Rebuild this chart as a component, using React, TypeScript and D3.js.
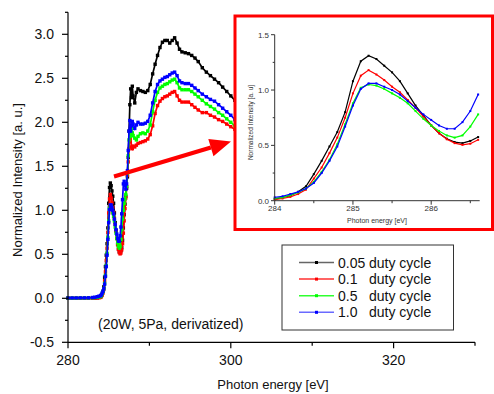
import React from "react";
import * as d3 from "d3";

// ---------- DATA ----------
const seriesNames = ["0.05", "0.1", "0.5", "1.0"];
const seriesColors = ["#000000", "#ff0000", "#00ff00", "#0000ff"];
const legendLineColors = ["#666666", "#ff3030", "#30ff30", "#6a6aff"];

// pre-edge energies (eV)
const ePre = [280, 280.5, 281, 281.5, 282, 282.5, 283, 283.3, 283.6, 283.8];
const blackPre = [0, 0, 0, 0, 0, 0, 0.002, 0.004, 0.007, 0.01];
const redPre = [0, 0, 0, 0, 0, 0, 0.001, 0.003, 0.005, 0.007];
const greenPre = [0.002, 0.002, 0.002, 0.003, 0.003, 0.004, 0.006, 0.008, 0.012, 0.016];
const bluePre = [0.004, 0.004, 0.004, 0.005, 0.005, 0.006, 0.009, 0.012, 0.018, 0.024];

// edge region (also shown in inset)
const eIn = [284.0, 284.1, 284.2, 284.3, 284.4, 284.5, 284.6, 284.7, 284.8, 284.9,
  285.0, 285.1, 285.2, 285.3, 285.4, 285.5, 285.6, 285.7, 285.8, 285.9,
  286.0, 286.1, 286.2, 286.3, 286.4, 286.5, 286.6];
const blackIn = [0.015, 0.03, 0.045, 0.08, 0.13, 0.24, 0.36, 0.49, 0.62, 0.8,
  1.08, 1.26, 1.31, 1.28, 1.22, 1.16, 1.08, 0.97, 0.86, 0.77,
  0.68, 0.61, 0.56, 0.53, 0.52, 0.54, 0.575];
const redIn = [0.01, 0.02, 0.035, 0.06, 0.1, 0.2, 0.3, 0.43, 0.57, 0.75,
  0.97, 1.13, 1.18, 1.14, 1.09, 1.03, 0.98, 0.91, 0.84, 0.76,
  0.68, 0.61, 0.555, 0.52, 0.505, 0.515, 0.55];
const greenIn = [0.02, 0.03, 0.05, 0.075, 0.11, 0.17, 0.26, 0.37, 0.51, 0.69,
  0.88, 1.02, 1.05, 1.04, 1.01, 0.97, 0.93, 0.88, 0.81, 0.74,
  0.68, 0.63, 0.59, 0.57, 0.59, 0.67, 0.78];
const blueIn = [0.03, 0.04, 0.06, 0.08, 0.11, 0.16, 0.25, 0.36, 0.49, 0.67,
  0.86, 1.01, 1.06, 1.06, 1.03, 1.0, 0.96, 0.9, 0.84, 0.78,
  0.73, 0.68, 0.65, 0.65, 0.71, 0.81, 0.96];

// post-edge energies (eV)
const ePost = [286.7, 286.8, 286.9, 287.0, 287.1, 287.2, 287.3, 287.4, 287.5, 287.6,
  287.7, 287.8, 287.9, 288.0, 288.2, 288.4, 288.6, 288.9, 289.2, 289.5,
  289.8, 290.1, 290.4, 290.7, 291.0, 291.3, 291.6, 291.9, 292.2, 292.5,
  292.8, 293.1, 293.4, 293.7, 294.0, 294.4, 294.8, 295.2, 295.6, 296.0,
  296.5, 297.0, 297.5, 298.0, 298.5, 299.0, 299.5, 300.0, 300.5, 301.0, 302.0];
const blackPost = [0.66, 0.8, 0.95, 1.07, 1.16, 1.25, 1.38, 1.6, 1.9, 2.2,
  2.38, 2.28, 2.41, 2.3, 2.22, 2.34, 2.38, 2.36, 2.35, 2.34,
  2.36, 2.43, 2.55, 2.66, 2.76, 2.85, 2.91, 2.93, 2.93, 2.9,
  2.93, 2.96, 2.9, 2.83, 2.8, 2.79, 2.78, 2.76, 2.73, 2.69,
  2.62, 2.57, 2.53, 2.49, 2.45, 2.4, 2.35, 2.3, 2.25, 2.21, 2.12];
const redPost = [0.62, 0.74, 0.88, 1.02, 1.14, 1.27, 1.4, 1.55, 1.7, 1.82,
  1.86, 1.72, 1.7, 1.73, 1.72, 1.74, 1.76, 1.77, 1.78, 1.79,
  1.81, 1.86, 1.96, 2.1, 2.19, 2.24, 2.27, 2.29, 2.3, 2.32,
  2.34, 2.35, 2.3, 2.25, 2.23, 2.23, 2.23, 2.2, 2.17, 2.14,
  2.11, 2.11, 2.08, 2.06, 2.03, 2.01, 1.98, 1.95, 1.92, 1.89, 1.83];
const greenPost = [0.9, 1.0, 1.08, 1.13, 1.18, 1.27, 1.42, 1.62, 1.8, 1.9,
  1.84, 1.93, 1.88, 1.85, 1.82, 1.8, 1.84, 1.87, 1.88, 1.87,
  1.9, 1.97, 2.12, 2.25, 2.34, 2.39, 2.41, 2.43, 2.44, 2.46,
  2.48, 2.49, 2.45, 2.39, 2.37, 2.37, 2.37, 2.35, 2.32, 2.29,
  2.25, 2.21, 2.18, 2.15, 2.11, 2.08, 2.04, 2.0, 1.96, 1.92, 1.85];
const bluePost = [1.12, 1.3, 1.33, 1.28, 1.24, 1.3, 1.45, 1.68, 1.9, 2.02,
  1.9, 1.96, 2.01, 1.98, 1.93, 1.97, 2.0, 1.98, 1.98, 1.99,
  2.01, 2.08, 2.22, 2.35, 2.43, 2.47, 2.49, 2.51, 2.52, 2.54,
  2.56, 2.57, 2.53, 2.47, 2.45, 2.44, 2.44, 2.42, 2.39, 2.36,
  2.32, 2.29, 2.26, 2.24, 2.2, 2.16, 2.12, 2.08, 2.03, 2.0, 1.92];

const mainXTicks = [280, 300, 320];
const mainXMinor = [290, 310, 330];
const mainYTicks = [-0.5, 0.0, 0.5, 1.0, 1.5, 2.0, 2.5, 3.0];
const mainYMinor = [-0.25, 0.25, 0.75, 1.25, 1.75, 2.25, 2.75, 3.25];
const inXTicks = [284, 285, 286];
const inXMinor = [284.5, 285.5, 286.5];
const inYTicks = [0.0, 0.5, 1.0, 1.5];
const inYMinor = [0.25, 0.75, 1.25];

// ---------- BUILD ----------
const energiesMain = [...ePre, ...eIn, ...ePost];
const mainSeries = [
  [...blackPre, ...blackIn, ...blackPost],
  [...redPre, ...redIn, ...redPost],
  [...greenPre, ...greenIn, ...greenPost],
  [...bluePre, ...blueIn, ...bluePost],
];
const insetSeries = [blackIn, redIn, greenIn, blueIn];

const FONT = "'Liberation Sans', Arial, Helvetica, sans-serif";

export default function App() {
  const x = d3.scaleLinear().domain([280, 330]).range([68, 475]);
  const y = d3.scaleLinear().domain([-0.5, 3.25]).range([342.3, 12.3]);
  const xi = d3.scaleLinear().domain([284, 286.62]).range([274.7, 479.7]);
  const yi = d3.scaleLinear().domain([0, 1.5]).range([200.7, 34.7]);

  const lineMain = d3.line<[number, number]>().x((d) => x(d[0])).y((d) => y(d[1]));
  const lineIn = d3.line<[number, number]>().x((d) => xi(d[0])).y((d) => yi(d[1]));

  // arrow
  const ax0 = 114, ay0 = 176.5, ax1 = 231, ay1 = 141.5;
  const ang = Math.atan2(ay1 - ay0, ax1 - ax0);
  const headL = 21, headW = 9;
  const bx = ax1 - headL * Math.cos(ang), by = ay1 - headL * Math.sin(ang);
  const px = -Math.sin(ang), py = Math.cos(ang);

  return (
    <svg width={494} height={394} style={{ position: "absolute", left: 0, top: 0, background: "#fff" }} fontFamily={FONT}>
      <rect x={0} y={0} width={494} height={394} fill="#fff" />
      {/* main series */}
      {mainSeries.map((vals, si) => {
        const pts = energiesMain.map((e, i) => [e, vals[i]] as [number, number]);
        return (
          <g key={si}>
            <path d={lineMain(pts) || ""} fill="none" stroke={seriesColors[si]} strokeWidth={1.7} />
            {pts.map((p, i) => (
              <rect key={i} x={x(p[0]) - 1.7} y={y(p[1]) - 1.7} width={3.4} height={3.4} fill={seriesColors[si]} />
            ))}
          </g>
        );
      })}

      {/* main axes */}
      <line x1={68} x2={68} y1={y(3.25)} y2={y(-0.5)} stroke="#000" strokeWidth={1.2} />
      <line x1={68} x2={475} y1={y(-0.5)} y2={y(-0.5)} stroke="#000" strokeWidth={1.2} />
      {mainYTicks.map((t) => (
        <g key={t}>
          <line x1={62} x2={68} y1={y(t)} y2={y(t)} stroke="#000" strokeWidth={1.2} />
          <text x={54} y={y(t) + 5} fontSize={14} textAnchor="end" fill="#111">{t.toFixed(1)}</text>
        </g>
      ))}
      {mainYMinor.map((t) => (
        <line key={t} x1={65} x2={68} y1={y(t)} y2={y(t)} stroke="#000" strokeWidth={1.2} />
      ))}
      {mainXTicks.map((t) => (
        <g key={t}>
          <line x1={x(t)} x2={x(t)} y1={y(-0.5)} y2={y(-0.5) + 6} stroke="#000" strokeWidth={1.2} />
          <text x={x(t)} y={365} fontSize={14} textAnchor="middle" fill="#111">{t}</text>
        </g>
      ))}
      {mainXMinor.map((t) => (
        <line key={t} x1={x(t)} x2={x(t)} y1={y(-0.5)} y2={y(-0.5) + 3.5} stroke="#000" strokeWidth={1.2} />
      ))}
      <text x={273} y={389} fontSize={13} textAnchor="middle" fill="#111">Photon energy [eV]</text>
      <text transform="translate(22,180) rotate(-90)" fontSize={13} textAnchor="middle" fill="#111">Normalized Intensity [a. u.]</text>
      <text x={98} y={329} fontSize={14} fill="#111">(20W, 5Pa, derivatized)</text>

      {/* arrow */}
      <line x1={ax0} y1={ay0} x2={bx} y2={by} stroke="#ff0000" strokeWidth={4} />
      <path d={`M${ax1},${ay1} L${bx + px * headW},${by + py * headW} L${bx - px * headW},${by - py * headW} Z`} fill="#ff0000" />

      {/* inset */}
      <rect x={235} y={16} width={257.5} height={213.5} fill="#fff" stroke="#ff0000" strokeWidth={3} />
      {insetSeries.map((vals, si) => {
        const pts = eIn.map((e, i) => [e, vals[i]] as [number, number]);
        return (
          <g key={si}>
            <path d={lineIn(pts) || ""} fill="none" stroke={seriesColors[si]} strokeWidth={1.2} />
            {pts.map((p, i) => (
              <rect key={i} x={xi(p[0]) - 1} y={yi(p[1]) - 1} width={2} height={2} fill={seriesColors[si]} />
            ))}
          </g>
        );
      })}
      <line x1={274.7} x2={274.7} y1={yi(1.5)} y2={yi(0)} stroke="#333" strokeWidth={1} />
      <line x1={274.7} x2={479.7} y1={yi(0)} y2={yi(0)} stroke="#333" strokeWidth={1} />
      {inYTicks.map((t) => (
        <g key={t}>
          <line x1={271} x2={274.7} y1={yi(t)} y2={yi(t)} stroke="#333" />
          <text x={269} y={yi(t) + 3} fontSize={8} textAnchor="end" fill="#333">{t.toFixed(1)}</text>
        </g>
      ))}
      {inYMinor.map((t) => (
        <line key={t} x1={272.7} x2={274.7} y1={yi(t)} y2={yi(t)} stroke="#333" />
      ))}
      {inXTicks.map((t) => (
        <g key={t}>
          <line x1={xi(t)} x2={xi(t)} y1={yi(0)} y2={yi(0) + 4} stroke="#333" />
          <text x={xi(t)} y={211} fontSize={8} textAnchor="middle" fill="#333">{t}</text>
        </g>
      ))}
      {inXMinor.map((t) => (
        <line key={t} x1={xi(t)} x2={xi(t)} y1={yi(0)} y2={yi(0) + 2.5} stroke="#333" />
      ))}
      <text x={377} y={223} fontSize={7} textAnchor="middle" fill="#333">Photon energy [eV]</text>
      <text transform="translate(252.5,122.5) rotate(-90)" fontSize={6.5} textAnchor="middle" fill="#333">Normalized Intensity [a. u]</text>

      {/* legend */}
      <rect x={282} y={245} width={171.5} height={85} fill="#fff" stroke="#333" strokeWidth={1} />
      {seriesNames.map((n, i) => {
        const ly = 262.5 + i * 16.6;
        return (
          <g key={n}>
            <line x1={299} x2={334} y1={ly} y2={ly} stroke={legendLineColors[i]} strokeWidth={1.5} />
            <rect x={315} y={ly - 1.5} width={3} height={3} fill={seriesColors[i]} />
            <text x={338} y={ly + 5} fontSize={14} fill="#111">{n}</text>
            <text x={369} y={ly + 5} fontSize={14} fill="#111">duty cycle</text>
          </g>
        );
      })}
    </svg>
  );
}
